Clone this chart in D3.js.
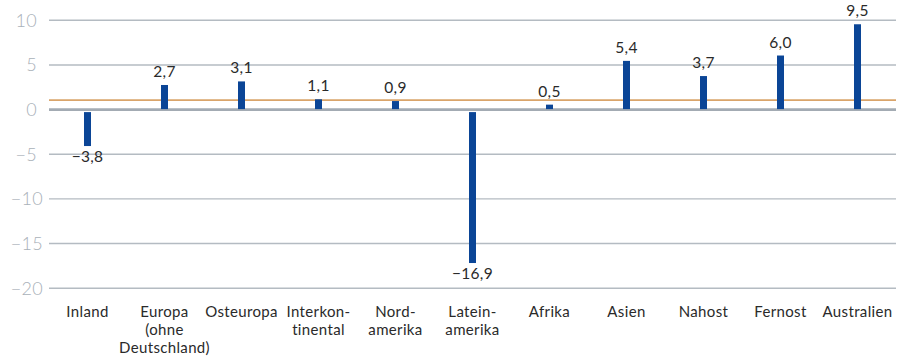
<!DOCTYPE html>
<html>
<head>
<meta charset="utf-8">
<script src="https://cdn.jsdelivr.net/npm/d3@7"></script>
<style>
  html, body { margin: 0; padding: 0; background: #fff; }
  svg { display: block; }
</style>
</head>
<body>
<svg id="chart" width="901" height="359"></svg>
<script>
// Regions (label lines) and their change values in %
const categories = [
  ["Inland"],
  ["Europa", "(ohne", "Deutschland)"],
  ["Osteuropa"],
  ["Interkon-", "tinental"],
  ["Nord-", "amerika"],
  ["Latein-", "amerika"],
  ["Afrika"],
  ["Asien"],
  ["Nahost"],
  ["Fernost"],
  ["Australien"]
];
const values = [-3.8, 2.7, 3.1, 1.1, 0.9, -16.9, 0.5, 5.4, 3.7, 6.0, 9.5];
const averageValue = 1.0;
const yTicks = [10, 5, 0, -5, -10, -15, -20];

(function draw() {
  const svg = d3.select("#chart");
  const plotLeft = 49, plotRight = 896, plotTop = 19.8, plotBottom = 287.7;
  const font = "Lato, sans-serif";

  const x = d3.scaleBand()
    .domain(d3.range(categories.length))
    .range([plotLeft, plotRight]);

  const y = d3.scaleLinear()
    .domain([10, -20])
    .range([plotTop, plotBottom]);

  const fmt = v => (v < 0 ? "\u2212" : "") + d3.format(".1f")(Math.abs(v)).replace(".", ",");

  // Horizontal grid and y tick labels
  const yAxis = d3.axisLeft(y)
    .tickValues(yTicks)
    .tickSize(-(plotRight - plotLeft))
    .tickPadding(12)
    .tickFormat(d => (d < 0 ? "\u2212" : "") + Math.abs(d));

  const gy = svg.append("g")
    .attr("transform", `translate(${plotLeft},0)`)
    .call(yAxis);
  gy.select(".domain").remove();
  gy.selectAll(".tick line")
    .attr("stroke", d => d === 0 ? "#a3abb3" : "#b4bbc2")
    .attr("stroke-width", d => d === 0 ? 2.6 : 1.4);
  gy.selectAll(".tick text")
    .attr("fill", "#a9b1b9")
    .attr("font-family", font)
    .attr("font-weight", 300)
    .attr("font-size", 18)
    .attr("letter-spacing", 0.3)
    .attr("dx", d => d <= -10 ? 6 : 0)
    .attr("dy", "0.36em");

  // Average line
  svg.append("line")
    .attr("x1", plotLeft).attr("x2", plotRight)
    .attr("y1", y(averageValue)).attr("y2", y(averageValue))
    .attr("stroke", "#d9a46a")
    .attr("stroke-width", 1.6);

  // Bars
  const barW = 7;
  const negGap = 3;
  svg.append("g").selectAll("rect")
    .data(values)
    .join("rect")
    .attr("x", (d, i) => x(i) + x.bandwidth() / 2 - barW / 2)
    .attr("width", barW)
    .attr("y", d => d >= 0 ? y(d) : y(0) + negGap)
    .attr("height", d => Math.abs(y(d) - y(0)))
    .attr("fill", "#0b4596");

  // Value labels
  svg.append("g").selectAll("text")
    .data(values)
    .join("text")
    .attr("x", (d, i) => x(i) + x.bandwidth() / 2)
    .attr("y", d => d >= 0 ? y(d) - 8 : y(d) + negGap + 15.5)
    .attr("text-anchor", "middle")
    .attr("font-family", font)
    .attr("font-size", 15.5)
    .attr("letter-spacing", 0.3)
    .attr("fill", "#2a2a2a")
    .text(fmt);

  // Category labels
  const cat = svg.append("g").selectAll("text")
    .data(categories)
    .join("text")
    .attr("text-anchor", "middle")
    .attr("font-family", font)
    .attr("font-size", 15)
    .attr("letter-spacing", 0.35)
    .attr("fill", "#2a2a2a");
  cat.selectAll("tspan")
    .data((d, i) => d.map(line => ({ line, i })))
    .join("tspan")
    .attr("x", d => x(d.i) + x.bandwidth() / 2)
    .attr("y", (d, j) => 317 + j * 18.2)
    .text(d => d.line);
})();
</script>
</body>
</html>
